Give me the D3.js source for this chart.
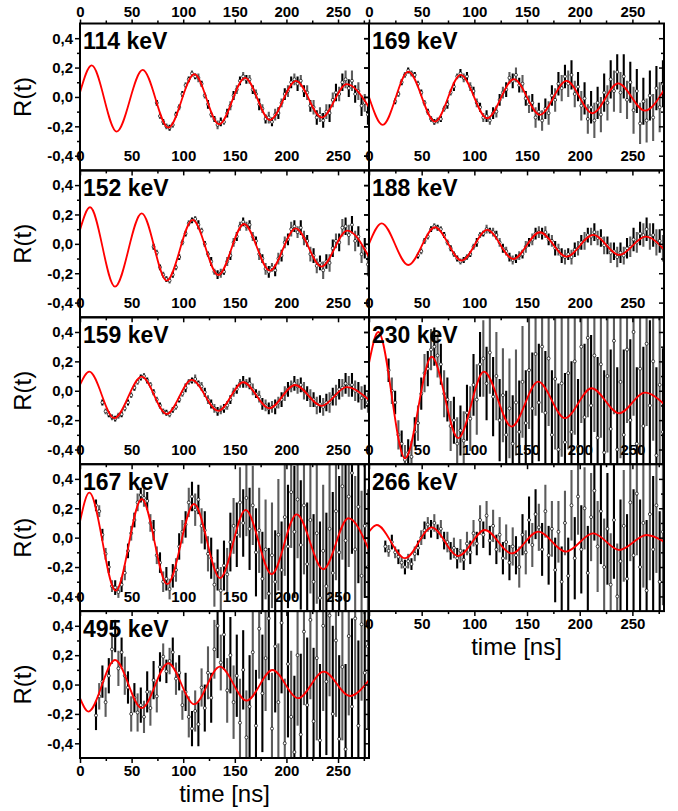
<!DOCTYPE html>
<html>
<head>
<meta charset="utf-8">
<script src="https://cdn.jsdelivr.net/npm/d3@7"></script>
<style>
body { margin: 0; background: #fff; }
text { font-family: "Liberation Sans", Arial, sans-serif; }
</style>
</head>
<body>
<div id="chart"></div>
<script>
// time channels in ns (shared by all spectra)
var timeGrid = [0,3.1,6.2,9.3,12.4,15.5,18.6,21.7,24.8,27.9,
  31,34.1,37.2,40.3,43.4,46.5,49.6,52.7,55.8,58.9,
  62,65.1,68.2,71.3,74.4,77.5,80.6,83.7,86.8,89.9,
  93,96.1,99.2,102.3,105.4,108.5,111.6,114.7,117.8,120.9,
  124,127.1,130.2,133.3,136.4,139.5,142.6,145.7,148.8,151.9,
  155,158.1,161.2,164.3,167.4,170.5,173.6,176.7,179.8,182.9,
  186,189.1,192.2,195.3,198.4,201.5,204.6,207.7,210.8,213.9,
  217,220.1,223.2,226.3,229.4,232.5,235.6,238.7,241.8,244.9,
  248,251.1,254.2,257.3,260.4,263.5,266.6,269.7,272.8,275.9,
  279];

// R(t) x 100 and its error x 100, starting at timeGrid[firstIndex]
var r114 = [-4,-13,-17,-20,-21,-19,-12,-7,2,8,12,16,14,13,9,1,-5,-12,-15,-19,-17,-17,-11,-6,1,5,11,14,12,12,5,2,-5,-8,-15,-14,-17,-12,-11,-4,2,4,10,12,9,11,4,3,-6,-7,-14,-12,-16,-10,-11,-2,3,2,10,12,6,11,2,4,-6,-4,-12];
var e114 = [2,2,2,2,2,2,2,2,2,2,2,2,2,3,2,2,3,2,2,3,3,2,3,3,3,3,3,3,3,3,3,3,4,3,3,4,3,4,4,3,4,4,4,4,5,4,4,5,4,5,5,5,5,5,6,5,6,5,6,6,6,7,6,6,7,6,7];

var r152 = [-2,-6,-16,-21,-24,-25,-21,-16,-9,1,7,14,16,17,13,9,0,-7,-12,-19,-21,-20,-19,-12,-8,1,5,12,15,12,13,5,2,-7,-10,-17,-19,-16,-18,-10,-8,1,3,10,12,8,11,4,2,-7,-8,-15,-13,-18,-12,-13,-3,2,1,11,12,6,13,2,5,-7,-3,-14];
var e152 = [2,2,2,2,2,2,2,2,2,2,2,2,2,2,3,2,2,2,3,2,3,3,2,3,3,3,3,3,3,3,3,3,3,4,3,4,4,3,4,4,4,4,4,5,4,4,5,5,4,5,5,5,5,6,5,6,6,5,6,6,6,7,6,7,7,6,7,8];

var r159 = [-8,-14,-16,-18,-19,-17,-16,-12,-8,-3,2,6,9,10,7,4,-1,-6,-10,-14,-15,-16,-13,-11,-6,-2,2,6,7,8,5,3,-1,-6,-9,-12,-14,-13,-12,-10,-6,-1,1,5,6,5,5,1,-2,-4,-9,-10,-12,-11,-11,-8,-6,-2,1,3,5,3,4,0,-2,-5,-6,-10,-9,-11,-8,-8,-4,-3,1,2,5,3,4,0,-1,-5,-4,-8];
var e159 = [2,2,2,2,2,2,2,2,2,2,2,2,2,2,2,2,2,2,2,2,2,2,2,2,2,2,3,2,2,3,2,3,3,3,3,3,3,3,3,3,3,3,3,3,4,3,4,4,3,4,4,4,4,4,5,4,5,5,5,4,5,5,5,6,5,6,5,6,6,6,6,7,6,7,7,6,7,7,8,7,7,8,8,7];

var r167 = [22,18,2,-11,-20,-33,-34,-37,-32,-24,-9,3,12,24,29,27,25,10,5,-12,-17,-30,-28,-35,-26,-22,-6,4,9,24,28,19,26,8,5,-11,-14,-32,-22,-36,-19,-25,-3,8,2,24,10,27,6,22,-10,5,-28,-8,-38,-12,-30,2,-22,14,-6,31,4,26,-5,22,-18,12,-30,3,-41,-9,-33,6,-24,18,-10,35,-2,28,44,-8,21,-26,8,-20];
var e167 = [4,4,4,4,4,4,5,4,5,5,5,5,5,6,5,6,6,6,7,6,7,7,8,7,8,8,9,8,9,10,10,11,10,12,13,12,14,15,14,16,17,18,20,19,22,24,23,26,28,27,30,29,32,34,31,36,35,38,33,40,42,38,45,40,44,47,42,50,46,48,52,45,50,48,55,47,52,50,54,48,55,50,52,58,49,53];

var r495 = [-21,-8,2,-12,6,24,33,11,22,6,-2,-20,-9,-19,-14,-22,-5,-16,3,-8,12,19,9,16,22,4,8,-14,-5,-22,-30,-18,-27,-2,-16,8,-9,24,40,15,34,-4,20,-12,6,-26,10,-36,-15,22,-28,38,-6,18,45,-30,26,-12,42,-40,14,-22,-46,20,-34,36,-14,44,-25,18,-38,40,2,47,-20,30,-37,12,-44,33,-15,45,-28,41,8,26];
var e495 = [10,9,11,10,12,10,11,12,10,13,11,12,10,13,12,11,14,12,13,11,10,9,8,9,10,11,12,10,13,14,12,14,15,13,16,18,17,20,22,19,24,22,26,25,28,30,27,32,35,30,38,34,40,36,42,38,45,40,48,44,50,45,52,48,55,50,46,54,50,56,52,58,50,55,60,52,57,50,58,54,60,55,58,52,60,56];

var r169 = [-3,2,10,15,18,16,15,9,3,-4,-10,-15,-17,-16,-15,-8,-5,3,7,14,16,13,14,7,4,-4,-7,-14,-13,-16,-11,-10,-2,3,5,13,11,15,8,9,-1,-5,-4,-14,-10,-16,-8,-11,1,-2,9,6,14,9,15,2,7,-6,-1,-15,-7,-16,-4,-12,3,-4,12,4,17,3,14,-2,10,-9,4,-18,-3,-16,1,-14,6,-7,9];
var e169 = [2,2,2,2,2,2,2,2,2,2,2,2,2,2,2,2,3,2,3,2,3,3,3,3,3,3,3,3,4,3,4,4,4,4,5,4,5,5,5,6,5,6,6,7,6,7,7,8,7,8,8,9,8,9,10,9,10,10,11,10,11,12,11,12,13,12,13,14,12,14,15,13,14,16,15,14,16,15,17,16,15,17,16];

var r188 = [-8,-5,2,5,10,12,11,10,6,1,-3,-7,-10,-12,-11,-9,-7,-2,1,6,7,10,9,8,6,1,-3,-5,-9,-11,-10,-8,-7,-2,1,3,7,8,7,8,3,2,-3,-4,-8,-9,-7,-9,-4,-3,1,2,6,5,8,4,4,-1,-1,-6,-5,-9,-6,-8,-3,-2,3,1,7,6,10,5,6,1,2,-3];
var e188 = [2,2,2,2,2,2,2,2,2,2,2,2,2,2,2,2,2,2,3,2,2,3,2,3,3,3,3,3,3,3,3,3,3,4,3,4,4,4,4,4,4,4,5,4,5,5,4,5,5,5,5,6,5,6,6,5,6,6,6,7,6,7,7,6,7,7,8,7,8,8,8,9,8,9,8,9];

var r230 = [14,0,-8,-30,-36,-47,-42,-45,-28,-22,-2,12,15,28,30,24,18,-2,-6,-24,-20,-36,-27,-34,-15,-19,4,-6,18,22,5,26,-4,10,-20,-3,-30,-12,-36,-8,-28,6,-22,14,-12,25,-8,30,-15,22,-30,8,-40,5,-35,12,-28,20,-38,30,-18,36,-10,24,-32,18,-42,10,-26,34,-40,6,-30,28,-20,40,-36,15,-24,32,-10,20,-44,4,-28];
var e230 = [8,9,8,10,9,10,9,11,10,12,11,13,12,14,13,15,14,16,15,17,16,18,17,20,19,22,21,24,22,26,25,28,27,30,28,32,30,34,33,36,35,38,36,40,38,42,40,45,42,46,44,48,45,50,47,52,48,50,46,52,50,54,48,52,55,50,56,52,54,50,56,52,58,50,55,57,52,58,54,56,58,54,60,55,57];

var r266 = [-6,-9,-3,-10,-13,-17,-20,-16,-18,-11,-7,0,5,9,6,10,4,6,-2,-3,-9,-7,-14,-9,-15,-4,-10,3,-4,12,2,15,-2,8,-8,2,-14,-3,-17,-6,-12,-20,2,-10,12,-5,16,7,-8,18,-12,6,-22,4,-30,10,-26,22,-14,28,-8,20,-24,14,32,-6,18,-20,6,-32,12,-40,-16,8,-28,24,-12,30,-20,10,-36,16,-8,22,-30,4];
var e266 = [4,4,5,4,5,4,5,5,4,5,5,5,6,5,6,6,5,6,6,7,6,7,7,8,7,8,8,9,8,10,9,10,10,11,10,12,11,12,12,13,13,14,14,15,16,15,17,16,18,18,20,19,22,21,24,22,26,24,28,26,30,28,32,30,34,31,36,33,38,35,40,36,42,38,44,40,45,42,46,44,48,45,50,46,48,50];

// fitted curve, read at its extrema (time in ns, R x 100)
var fitT114 = [0,11.3,35.5,60.7,85.6,110.8,134.7,159.9,184,209.3,234.2,258.4,280];
var fitR114 = [3,21.5,-23.6,18.4,-20.9,15.5,-18.6,13,-15.7,11,-14,8.7,-7];
var fitT152 = [0,9.7,33.9,59.8,84,109.2,134,158.9,184,209,234,259,280];
var fitR152 = [9.5,24.9,-29.1,20.8,-25,16.3,-21.2,13.5,-18.2,10.6,-15.5,9,-9];
var fitT159 = [0,9,33.2,59.8,84,108.2,134,158.2,183.4,208.3,234,258.4,280];
var fitR159 = [4,13,-18.7,9.6,-15.8,7.4,-13.7,5.8,-11.9,3.9,-10.3,2.4,-6.3];
var fitT167 = [0,9,34.6,59.8,84.6,110.5,135.7,160.5,185.7,209.9,235.7,260,280];
var fitR167 = [10.9,30.6,-36.1,26.3,-31.7,22.9,-27.6,18.9,-24.9,15.9,-21.5,13.2,-8.4];
var fitT495 = [0,8.1,33.9,59.8,85.5,110.7,135.5,161.4,186.5,211.3,236.2,261.4,280];
var fitR495 = [-9.3,-18.4,16.7,-16.1,14.5,-13.4,12.2,-11,9.9,-9.3,8.8,-7.8,3.1];
var fitT169 = [0,13,37.3,62.6,87,112.2,137.6,162.2,187.5,212.2,236.5,261.9,280];
var fitR169 = [0,-19,17.2,-16.8,15,-14.5,12.2,-12.2,10.9,-11.1,9.3,-9.3,4.8];
var fitT188 = [0,12,37.3,62.6,88,112.2,136.9,162.2,187.5,212.8,237.5,262.5,280];
var fitR188 = [0,14,-14.4,11.3,-11.4,9.5,-10.3,7.9,-8.7,6.1,-7.6,4.9,-3.7];
var fitT230 = [0,8.8,34.2,59.5,84.7,109.1,135.4,160.6,186,211.2,237.5,261.9,280];
var fitR230 = [18.7,40,-46,23.2,-32.3,13,-24.4,6.2,-18.7,1.7,-15.3,-1.3,-9];
var fitT266 = [0,7.3,34.2,59.5,84.7,110,135.4,160.6,186.9,212.8,237.5,263.5,280];
var fitR266 = [4,8.6,-14,7,-12.5,5.2,-10.7,4.1,-9.5,2.9,-8.4,1.8,-2.7];

var labels = ["114 keV","152 keV","159 keV","167 keV","495 keV","169 keV","188 keV","230 keV","266 keV"];
var firstIndex = [24,23,7,5,5,8,15,6,5];
var rData = [r114,r152,r159,r167,r495,r169,r188,r230,r266];
var eData = [e114,e152,e159,e167,e495,e169,e188,e230,e266];
var fitT = [fitT114,fitT152,fitT159,fitT167,fitT495,fitT169,fitT188,fitT230,fitT266];
var fitR = [fitR114,fitR152,fitR159,fitR167,fitR495,fitR169,fitR188,fitR230,fitR266];

var xTicks = [0,50,100,150,200,250];
var xMinor = [25,75,125,175,225,275];
var yTicks = [-0.4,-0.2,0,0.2,0.4];
var yMinor = [-0.3,-0.1,0.1,0.3];

// layout
var cols = [{x0:80, x1:369, rows:5}, {x0:369, x1:664, rows:4}];
var top0 = 23.5, rowH = 146.9;

var svg = d3.select("#chart").append("svg")
    .attr("width", 678)
    .attr("height", 811);
svg.append("rect").attr("width", 678).attr("height", 811).attr("fill", "#fff");

var defs = svg.append("defs");

function commaFmt(d) {
  return d3.format(".1f")(d).replace("\u2212", "-").replace(".", ",");
}

function styleAxis(sel) {
  sel.select(".domain").remove();
  sel.selectAll("line").attr("stroke", "#000").attr("stroke-width", 1.5);
  sel.selectAll("text")
    .attr("fill", "#000")
    .style("font-family", "'Liberation Sans', Arial, sans-serif")
    .style("font-size", "15px")
    .style("font-weight", "bold");
}

var frames = svg.append("g");
var axesLayer = svg.append("g");

labels.forEach(function(label, k) {
  var c = k < 5 ? 0 : 1;
  var row = k < 5 ? k : k - 5;
  var col = cols[c];
  var top = top0 + row * rowH, bottom = top + rowH;
  var x = d3.scaleLinear().domain([0, 280]).range([col.x0, col.x1]);
  var y = d3.scaleLinear().domain([-0.5, 0.5]).range([bottom, top]);

  defs.append("clipPath").attr("id", "clip" + k)
    .append("rect")
    .attr("x", col.x0).attr("y", top)
    .attr("width", col.x1 - col.x0).attr("height", rowH);

  var pts = rData[k].map(function(v, i) {
    return {t: timeGrid[firstIndex[k] + i], r: v / 100, e: eData[k][i] / 100, i: i};
  });

  var g = svg.append("g").attr("clip-path", "url(#clip" + k + ")");

  g.selectAll("line.err")
    .data(pts)
    .enter()
    .append("line")
    .attr("class", "err")
    .attr("x1", function(d) { return x(d.t); })
    .attr("x2", function(d) { return x(d.t); })
    .attr("y1", function(d) { return y(d.r - d.e); })
    .attr("y2", function(d) { return y(d.r + d.e); })
    .attr("stroke", function(d) { return d.i % 2 ? "#5c5c5c" : "#000"; })
    .attr("stroke-width", 2.1);

  g.selectAll("circle")
    .data(pts)
    .enter()
    .append("circle")
    .attr("cx", function(d) { return x(d.t); })
    .attr("cy", function(d) { return y(d.r); })
    .attr("r", 1.5)
    .attr("fill", "#fff")
    .attr("stroke", "#000")
    .attr("stroke-width", 0.7);

  svg.append("text")
    .attr("x", col.x0 + 3)
    .attr("y", top + 25.5)
    .style("font-size", "23px")
    .style("font-weight", "bold")
    .text(label);

  var fit = fitT[k].map(function(t, i) { return [t, fitR[k][i] / 100]; });
  g.append("path")
    .datum(fit)
    .attr("fill", "none")
    .attr("stroke", "#ff0000")
    .attr("stroke-width", 1.8)
    .attr("d", d3.line()
      .x(function(d) { return x(d[0]); })
      .y(function(d) { return y(d[1]); })
      .curve(d3.curveMonotoneX));

  frames.append("rect")
    .attr("x", col.x0).attr("y", top)
    .attr("width", col.x1 - col.x0).attr("height", rowH)
    .attr("fill", "none")
    .attr("stroke", "#000")
    .attr("stroke-width", 2);

  // vertical axes: ticks pointing left on both edges
  var left = axesLayer.append("g").attr("transform", "translate(" + col.x0 + ",0)")
    .call(d3.axisLeft(y).tickValues(yTicks).tickSize(5).tickPadding(2)
      .tickFormat(c === 0 ? commaFmt : function() { return ""; }));
  styleAxis(left);
  styleAxis(axesLayer.append("g").attr("transform", "translate(" + col.x0 + ",0)")
    .call(d3.axisLeft(y).tickValues(yMinor).tickSize(3).tickFormat("")));
  styleAxis(axesLayer.append("g").attr("transform", "translate(" + col.x1 + ",0)")
    .call(d3.axisRight(y).tickValues(yTicks).tickSize(-5).tickFormat("")));
  styleAxis(axesLayer.append("g").attr("transform", "translate(" + col.x1 + ",0)")
    .call(d3.axisRight(y).tickValues(yMinor).tickSize(-3).tickFormat("")));

  // top edge: labels above the line
  var up = row === 0;
  styleAxis(axesLayer.append("g").attr("transform", "translate(0," + top + ")")
    .call(d3.axisTop(x).tickValues(xTicks).tickSize(up ? 4 : -5).tickPadding(up ? 3 : 9)));
  styleAxis(axesLayer.append("g").attr("transform", "translate(0," + top + ")")
    .call(d3.axisTop(x).tickValues(xMinor).tickSize(up ? 3 : -3).tickFormat("")));

  if (row === col.rows - 1) {
    styleAxis(axesLayer.append("g").attr("transform", "translate(0," + bottom + ")")
      .call(d3.axisBottom(x).tickValues(xTicks).tickSize(5).tickPadding(2)));
    styleAxis(axesLayer.append("g").attr("transform", "translate(0," + bottom + ")")
      .call(d3.axisBottom(x).tickValues(xMinor).tickSize(3).tickFormat("")));
    svg.append("text")
      .attr("x", (col.x0 + col.x1) / 2)
      .attr("y", bottom + (c === 0 ? 44 : 44))
      .attr("text-anchor", "middle")
      .style("font-size", "24px")
      .text("time [ns]");
  }

  if (c === 0) {
    svg.append("text")
      .attr("transform", "translate(31," + (top + rowH / 2) + ") rotate(-90)")
      .attr("text-anchor", "middle")
      .style("font-size", "24px")
      .text("R(t)");
  }
});

frames.raise();
axesLayer.raise();
</script>
</body>
</html>
